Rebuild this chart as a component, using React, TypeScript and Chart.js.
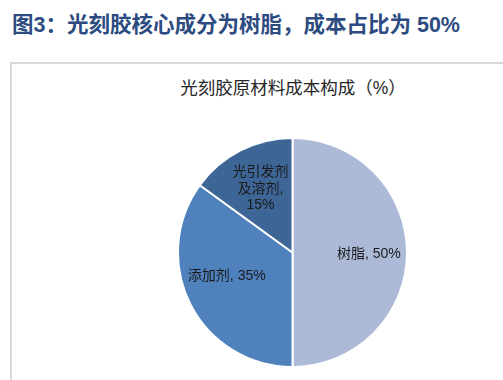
import React, { useEffect, useRef } from "react";
import { Chart, registerables } from "chart.js";

Chart.register(...registerables);

const heading = "图3：光刻胶核心成分为树脂，成本占比为 50%";
const chartTitle = "光刻胶原材料成本构成（%）";
const categories = ["树脂", "添加剂", "光引发剂及溶剂"];
const labelLines = [["树脂, 50%"], ["添加剂, 35%"], ["光引发剂", "及溶剂,", "15%"]];
const values = [50, 35, 15];
const colors = ["#ACBAD8", "#4F81BD", "#3D6596"];

const FONT = "'Liberation Sans', 'Noto Sans CJK SC', sans-serif";

export default function App() {
  const ref = useRef<HTMLCanvasElement | null>(null);

  useEffect(() => {
    if (!ref.current) return;
    const labelPlugin = {
      id: "sliceLabels",
      afterDatasetsDraw(chart: any) {
        const ctx = chart.ctx;
        const meta = chart.getDatasetMeta(0);
        const nudges = [
          [6, 2],
          [-3, -8],
          [0, -1],
        ];
        ctx.save();
        ctx.font = `14px ${FONT}`;
        ctx.fillStyle = "#1a1a1a";
        ctx.textAlign = "center";
        ctx.textBaseline = "middle";
        meta.data.forEach((arc: any, i: number) => {
          const { x, y, startAngle, endAngle, outerRadius } = arc.getProps(
            ["x", "y", "startAngle", "endAngle", "outerRadius"],
            true
          );
          const mid = (startAngle + endAngle) / 2;
          const r = outerRadius * 0.615;
          const cx = x + Math.cos(mid) * r + nudges[i][0];
          const cy = y + Math.sin(mid) * r + nudges[i][1];
          const lines = labelLines[i];
          const lh = 16.5;
          lines.forEach((ln, k) => {
            ctx.fillText(ln, cx, cy + (k - (lines.length - 1) / 2) * lh);
          });
        });
        ctx.restore();
      },
    };
    const chart = new Chart(ref.current, {
      type: "pie",
      data: {
        labels: categories,
        datasets: [
          {
            data: values,
            backgroundColor: colors,
            borderColor: "#ffffff",
            borderWidth: 2,
          },
        ],
      },
      options: {
        animation: false,
        responsive: false,
        maintainAspectRatio: false,
        layout: { padding: 0 },
        plugins: {
          legend: { display: false },
          tooltip: { enabled: false },
          title: { display: false },
        },
      },
      plugins: [labelPlugin],
    });
    return () => chart.destroy();
  }, []);

  return (
    <div
      style={{
        position: "absolute",
        left: 0,
        top: 0,
        width: 503,
        height: 380,
        overflow: "hidden",
        background: "#ffffff",
      }}
    >
      <div
        style={{
          position: "absolute",
          left: 12,
          top: 12,
          fontFamily: FONT,
          fontWeight: "bold",
          fontSize: 21.5,
          lineHeight: "26px",
          color: "#2C4B80",
          whiteSpace: "nowrap",
        }}
      >
        {heading}
      </div>
      <div
        style={{
          position: "absolute",
          left: 10,
          top: 62,
          width: 540,
          height: 360,
          border: "2px solid #D9D9D9",
          boxSizing: "border-box",
        }}
      />
      <div
        style={{
          position: "absolute",
          left: 92,
          width: 402,
          top: 77,
          textAlign: "center",
          fontFamily: FONT,
          fontSize: 17.5,
          lineHeight: "22px",
          color: "#262626",
          whiteSpace: "nowrap",
        }}
      >
        {chartTitle}
      </div>
      <canvas
        ref={ref}
        width={231}
        height={231}
        style={{ position: "absolute", left: 177, top: 137, width: 231, height: 231 }}
      />
    </div>
  );
}
